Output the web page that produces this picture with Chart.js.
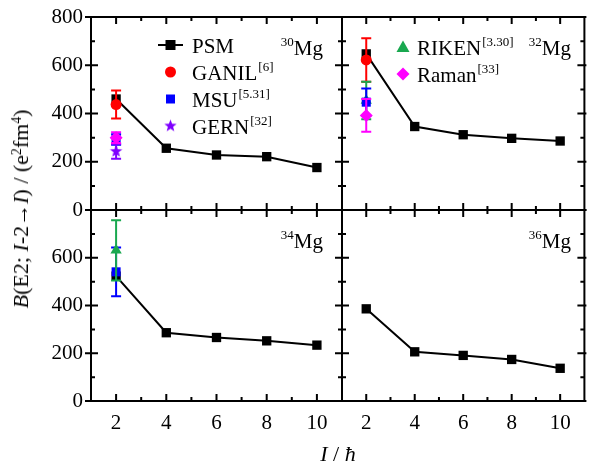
<!DOCTYPE html>
<html>
<head>
<meta charset="utf-8">
<script src="https://cdn.jsdelivr.net/npm/chart.js@4.4.1/dist/chart.umd.min.js"></script>
<style>
  html, body { margin:0; padding:0; background:#fff; }
  #wrap { position:relative; width:591px; height:466px; overflow:hidden; font-family:'Liberation Serif', 'Times New Roman', serif; color:#000; }
  canvas { position:absolute; }
  .ytitle { position:absolute; left:21px; top:209px; transform:translate(-50%,-50%) rotate(-90deg); white-space:nowrap; font-size:22px; }
  .xtitle { position:absolute; left:338px; top:454px; transform:translate(-50%,-50%); white-space:nowrap; font-size:22px; }
  sup { font-size:0.62em; vertical-align:0.5em; line-height:0; }
</style>
</head>
<body>
<div id="wrap">
  <canvas id="c30" width="352" height="230" style="left:0px;top:0px"></canvas>
  <canvas id="c32" width="259" height="230" style="left:332px;top:0px"></canvas>
  <canvas id="c34" width="352" height="276" style="left:0px;top:190px"></canvas>
  <canvas id="c36" width="259" height="276" style="left:332px;top:190px"></canvas>
  <div class="ytitle"><i>B</i>(E2; <i>I</i>-2→<i>I</i>) / (e<sup>2</sup>fm<sup>4</sup>)</div>
  <div class="xtitle"><i>I</i> / <i>ħ</i></div>
</div>
<script>
// ---- data ----
const spins = [2, 4, 6, 8, 10];
const psm30 = [460, 256, 228, 221, 176];
const psm32 = [647, 346, 312, 297, 286];
const psm34 = [523, 286, 266, 252, 234];
const psm36 = [386, 206, 191, 174, 137];
// experimental points at I = 2: [value, error]
const expSpin = 2;
const ganil30 = [437, 58];
const msu30   = [292, 22];
const gern30  = [243, 31];
const raman30 = [300, 22];
const ganil32 = [622, 90];
const riken32 = [454, 78];
const msu32   = [447, 57];
const raman32 = [392, 68];
const msu34   = [541, 102];
const riken34 = [631, 126];
// ticks
const xTicks = [2, 4, 6, 8, 10];
const xTickLabels = ['2', '4', '6', '8', '10'];
const xMinorTicks = [3, 5, 7, 9];
const yTicks = [0, 200, 400, 600, 800];
const yTickLabelsTop = ['0', '200', '400', '600', '800'];
const yTickLabelsBottom = ['0', '200', '400', '600', ''];
const yMinorTicks = [100, 300, 500, 700];

// ---- styles ----
const FONT = "'Liberation Serif', 'Times New Roman', serif";
const C = { PSM:'#000000', GANIL:'#ff0000', MSU:'#0000ff', GERN:'#7f00ff', RIKEN:'#19a84f', Raman:'#ff00ff' };

function starImage(color, r) {
  const s = Math.ceil(r * 2 + 2);
  const c = document.createElement('canvas'); c.width = s; c.height = s;
  const g = c.getContext('2d'); g.fillStyle = color; g.beginPath();
  for (let k = 0; k < 10; k++) {
    const a = -Math.PI / 2 + k * Math.PI / 5, rr = (k % 2) ? r * 0.42 : r;
    g.lineTo(s / 2 + rr * Math.cos(a), s / 2 + rr * Math.sin(a));
  }
  g.closePath(); g.fill(); return c;
}
const STAR = starImage(C.GERN, 6.5);

const markers = {
  PSM:   { pointStyle:'rect', radius:6.6 },
  GANIL: { pointStyle:'circle', radius:5.5 },
  MSU:   { pointStyle:'rect', radius:6.4 },
  GERN:  { pointStyle:STAR, radius:6.5 },
  RIKEN: { pointStyle:'triangle', radius:6.5 },
  Raman: { pointStyle:'rectRot', radius:6.5 }
};

function psmDataset(vals) {
  return { label:'PSM', data: spins.map((s, i) => ({ x:s, y:vals[i] })), borderColor:C.PSM, backgroundColor:C.PSM,
    borderWidth:2, pointStyle:markers.PSM.pointStyle, pointRadius:markers.PSM.radius, pointBorderWidth:0, showLine:true, tension:0 };
}
function expDataset(name, arr) {
  const m = markers[name];
  return { label:name, data:[{ x:expSpin, y:arr[0] }], err:[arr[1]], borderColor:C[name], backgroundColor:C[name],
    pointStyle:m.pointStyle, pointRadius:m.radius, pointBorderWidth:0, showLine:false };
}
function ordered(list) { // list is bottom -> top
  list.forEach((d, i) => { d.order = list.length - i; d.clip = false; });
  return list;
}

const errorBars = {
  id:'errorBars',
  beforeDatasetDraw(chart, args) {
    const ds = chart.data.datasets[args.index];
    if (!ds.err) return;
    const ctx = chart.ctx, xs = chart.scales.x, ys = chart.scales.y;
    ctx.save(); ctx.strokeStyle = ds.borderColor; ctx.lineWidth = 2;
    ds.data.forEach((p, i) => {
      const x = xs.getPixelForValue(p.x), t = ys.getPixelForValue(p.y + ds.err[i]), b = ys.getPixelForValue(p.y - ds.err[i]);
      ctx.beginPath();
      ctx.moveTo(x, t); ctx.lineTo(x, b);
      ctx.moveTo(x - 5, t); ctx.lineTo(x + 5, t);
      ctx.moveTo(x - 5, b); ctx.lineTo(x + 5, b);
      ctx.stroke();
    });
    ctx.restore();
  }
};

function drawMarker(ctx, name, x, y) {
  const col = C[name];
  ctx.save(); ctx.fillStyle = col;
  if (name === 'PSM' || name === 'MSU') { const h = name === 'PSM' ? 5 : 4.5; ctx.fillRect(x - h, y - h, 2 * h, 2 * h); }
  else if (name === 'GANIL') { ctx.beginPath(); ctx.arc(x, y, 5.5, 0, 2 * Math.PI); ctx.fill(); }
  else if (name === 'GERN') { ctx.drawImage(STAR, x - STAR.width / 2, y - STAR.height / 2); }
  else if (name === 'RIKEN') { ctx.beginPath(); ctx.moveTo(x, y - 6.5); ctx.lineTo(x + 6.5, y + 5); ctx.lineTo(x - 6.5, y + 5); ctx.closePath(); ctx.fill(); }
  else if (name === 'Raman') { ctx.beginPath(); ctx.moveTo(x, y - 6.5); ctx.lineTo(x + 6.5, y); ctx.lineTo(x, y + 6.5); ctx.lineTo(x - 6.5, y); ctx.closePath(); ctx.fill(); }
  ctx.restore();
}

function makeDecor(opts) {
  return {
    id:'decor',
    afterDraw(chart) {
      const ctx = chart.ctx, a = chart.chartArea, xs = chart.scales.x, ys = chart.scales.y;
      ctx.save();
      ctx.strokeStyle = '#000'; ctx.lineWidth = 2; ctx.lineCap = 'butt';
      ctx.strokeRect(a.left, a.top, a.right - a.left, a.bottom - a.top);
      ctx.beginPath();
      xTicks.forEach(v => { const x = xs.getPixelForValue(v); ctx.moveTo(x, a.bottom); ctx.lineTo(x, a.bottom - 7); ctx.moveTo(x, a.top); ctx.lineTo(x, a.top + 7); });
      xMinorTicks.forEach(v => { const x = xs.getPixelForValue(v); ctx.moveTo(x, a.bottom); ctx.lineTo(x, a.bottom - 4); ctx.moveTo(x, a.top); ctx.lineTo(x, a.top + 4); });
      yTicks.forEach(v => { const y = ys.getPixelForValue(v); ctx.moveTo(a.left - opts.outL, y); ctx.lineTo(a.left + 7, y); ctx.moveTo(a.right + opts.outR, y); ctx.lineTo(a.right - 7, y); });
      yMinorTicks.forEach(v => { const y = ys.getPixelForValue(v); ctx.moveTo(a.left, y); ctx.lineTo(a.left + 4, y); ctx.moveTo(a.right, y); ctx.lineTo(a.right - 4, y); });
      ctx.stroke();
      // legend
      ctx.fillStyle = '#000'; ctx.textBaseline = 'alphabetic'; ctx.textAlign = 'left';
      (opts.legend || []).forEach(L => {
        if (L.name === 'PSM') {
          ctx.beginPath(); ctx.moveTo(L.x - 12.5, L.y); ctx.lineTo(L.x + 12.5, L.y); ctx.stroke();
        }
        drawMarker(ctx, L.name, L.x, L.y);
        ctx.font = '21px ' + FONT;
        ctx.fillText(L.name, L.tx, L.y + 8);
        if (L.sup) {
          const w = ctx.measureText(L.name).width;
          ctx.font = '13px ' + FONT;
          ctx.fillText(L.sup, L.tx + w + 1, L.y - 1);
        }
      });
      // nucleus label
      if (opts.label) {
        const Lb = opts.label;
        ctx.textAlign = 'right';
        ctx.font = '21px ' + FONT;
        const w = ctx.measureText('Mg').width;
        ctx.fillText('Mg', Lb.x, Lb.y);
        ctx.font = '13px ' + FONT;
        ctx.fillText(Lb.mass, Lb.x - w, Lb.y - 9);
      }
      ctx.restore();
    }
  };
}

function makeChart(id, datasets, cfg) {
  return new Chart(document.getElementById(id), {
    type:'line',
    data:{ datasets },
    options:{
      responsive:false, animation:false, events:[],
      layout:{ padding:cfg.padding },
      plugins:{ legend:{ display:false }, tooltip:{ enabled:false } },
      scales:{
        x:{ type:'linear', min:1, max:11,
            afterBuildTicks:s => { s.ticks = xTicks.map(v => ({ value:v })); },
            ticks:{ display:cfg.showX, color:'#000', padding:2, font:{ family:FONT, size:21 }, maxRotation:0, autoSkip:false,
                    callback:(v, i) => xTickLabels[i] },
            grid:{ display:false }, border:{ display:false },
            afterFit:s => { s.height = cfg.xh; } },
        y:{ type:'linear', min:0, max:800,
            afterBuildTicks:s => { s.ticks = yTicks.map(v => ({ value:v })); },
            ticks:{ display:cfg.showY, color:'#000', padding:0, font:{ family:FONT, size:21 }, autoSkip:false,
                    callback:(v, i) => cfg.yLabels[i] },
            grid:{ display:false }, border:{ display:false },
            afterFit:s => { s.width = cfg.yw; } }
      }
    },
    plugins:[errorBars, makeDecor(cfg.decor)]
  });
}

makeChart('c30', ordered([psmDataset(psm30), expDataset('GANIL', ganil30), expDataset('MSU', msu30), expDataset('GERN', gern30), expDataset('Raman', raman30)]),
  { padding:{ left:0, right:10, top:17, bottom:20 }, showX:false, showY:true, xh:0, yw:91, yLabels:yTickLabelsTop,
    decor:{ outL:6, outR:0, label:{ x:323, y:55, mass:'30' },
      legend:[ { name:'PSM', x:170.5, y:45, tx:192 }, { name:'GANIL', x:170.5, y:72, tx:192, sup:'[6]' },
               { name:'MSU', x:170.5, y:99, tx:192, sup:'[5.31]' }, { name:'GERN', x:170.5, y:126, tx:192, sup:'[32]' } ] } });

makeChart('c32', ordered([psmDataset(psm32), expDataset('GANIL', ganil32), expDataset('RIKEN', riken32), expDataset('MSU', msu32), expDataset('Raman', raman32)]),
  { padding:{ left:10, right:2, top:17, bottom:20 }, showX:false, showY:false, xh:0, yw:0, yLabels:yTickLabelsTop,
    decor:{ outL:0, outR:2, label:{ x:571 - 332, y:55, mass:'32' },
      legend:[ { name:'RIKEN', x:403 - 332, y:47, tx:417 - 332, sup:'[3.30]' }, { name:'Raman', x:403 - 332, y:74, tx:417 - 332, sup:'[33]' } ] } });

makeChart('c34', ordered([psmDataset(psm34), expDataset('MSU', msu34), expDataset('RIKEN', riken34)]),
  { padding:{ left:0, right:10, top:20, bottom:0 }, showX:true, showY:true, xh:65, yw:91, yLabels:yTickLabelsBottom,
    decor:{ outL:6, outR:0, label:{ x:323, y:248 - 190, mass:'34' } } });

makeChart('c36', ordered([psmDataset(psm36)]),
  { padding:{ left:10, right:2, top:20, bottom:0 }, showX:true, showY:false, xh:65, yw:0, yLabels:yTickLabelsBottom,
    decor:{ outL:0, outR:2, label:{ x:571 - 332, y:248 - 190, mass:'36' } } });
</script>
</body>
</html>
